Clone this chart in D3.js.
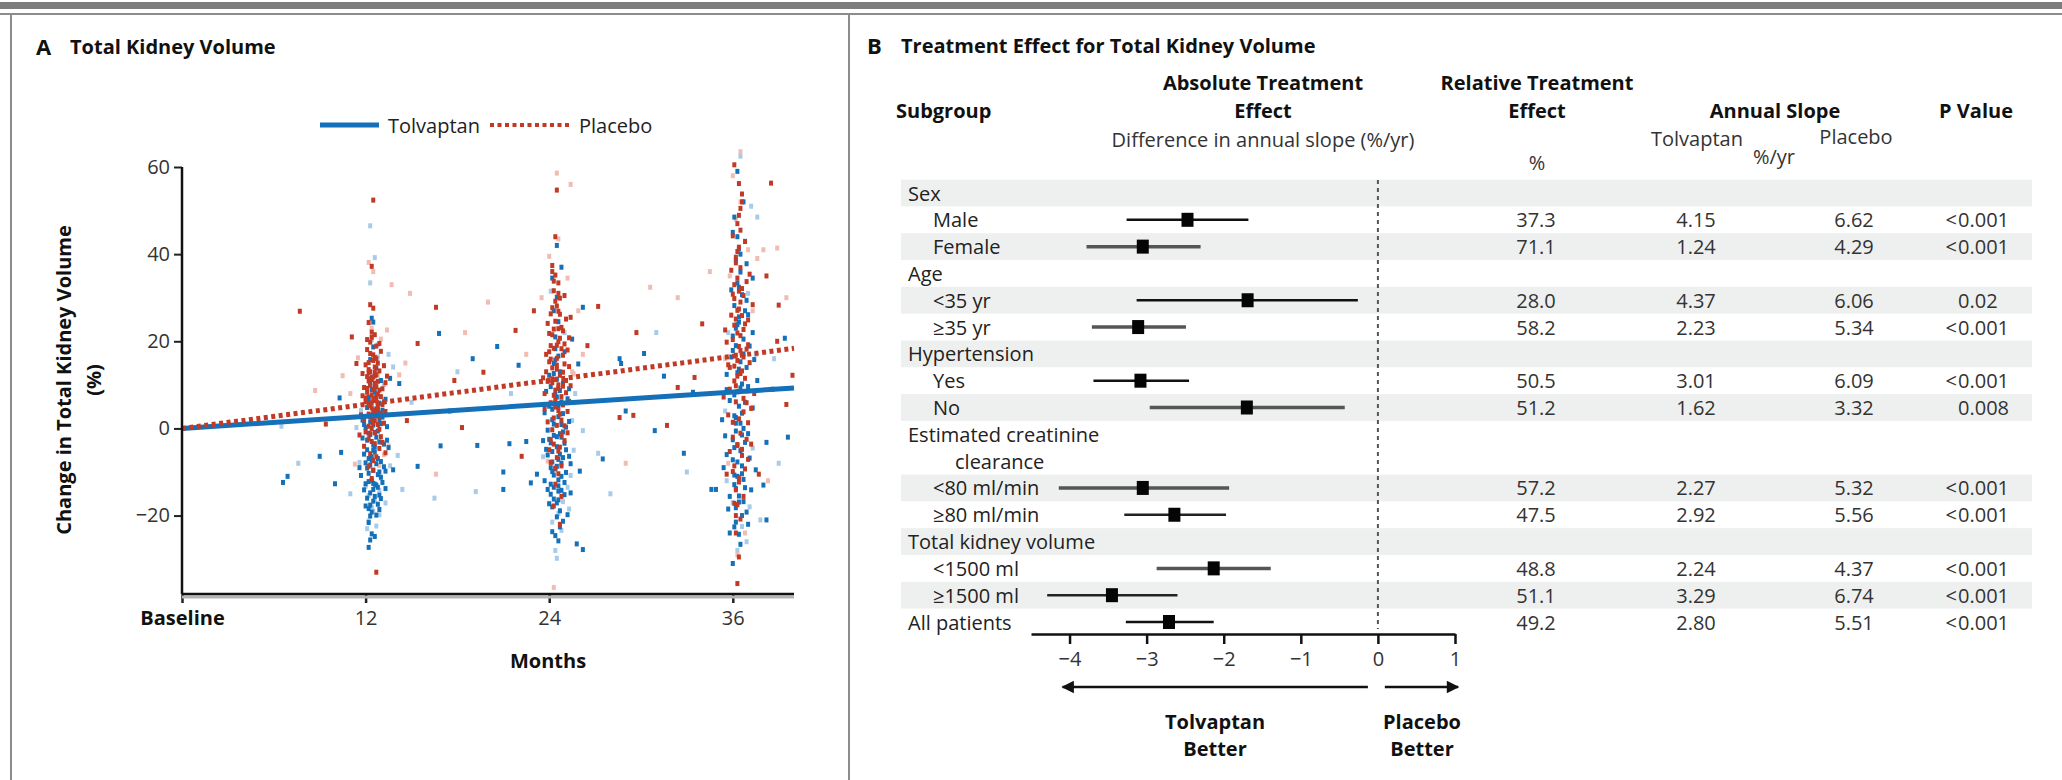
<!DOCTYPE html>
<html>
<head>
<meta charset="utf-8">
<script src="https://cdn.jsdelivr.net/npm/d3@7/dist/d3.min.js"></script>
<style>
  html, body { margin: 0; padding: 0; background: #fff; }
  svg { display: block; font-family: "Open Sans", "Liberation Sans", sans-serif; }
</style>
</head>
<body>
<svg id="chart" width="2062" height="780"></svg>
<script>
// ---------------- DATA: Panel A ----------------
const xTickValues = [0, 12, 24, 36];
const xTickLabels = ["Baseline", "12", "24", "36"];
const yTickValues = [-20, 0, 20, 40, 60];
const seriesNames = ["Tolvaptan", "Placebo"];
// fitted mean lines [month, % change]
const tolvaptanLine = [[0, 0], [40, 9.3]];
const placeboLine = [[0, 0], [40, 18.4]];

const placeboDark = [
[12.2,0.5],[12.4,2.1],[12.6,3.8],[12.3,5.2],[12.5,6.9],[12.1,8.3],[12.7,9.6],[12.4,11.2],[12.2,12.8],[12.6,14.1],
[12.3,-1.2],[12.5,1.3],[12.8,4.4],[12.0,6.1],[12.4,7.7],[12.6,10.4],[12.2,13.5],[12.5,15.6],[12.3,17.2],[12.7,18.9],
[12.1,20.4],[12.4,22.1],[12.6,-3.5],[12.3,-5.8],[12.5,-7.4],[12.9,2.8],[12.2,3.3],[12.4,5.9],[12.7,7.0],[12.1,9.2],
[12.5,11.8],[12.3,13.0],[12.8,15.0],[12.6,16.3],[12.2,-2.4],[12.4,0.0],[12.9,8.8],[13.1,5.5],[12.0,14.6],[12.7,12.3],
[12.5,-9.6],[12.3,19.8],[12.6,21.5],[12.2,24.3],[12.5,27.6],[12.3,28.4],[12.4,37.2],[12.5,52.4],[12.7,-33.0],[13.3,10.5],
[11.8,7.5],[12.9,-4.6],[12.4,-11.5],[13.0,17.7],[11.9,2.0],[12.6,6.4],[12.2,10.9],[12.8,0.9],[12.4,4.7],[12.3,9.9],
[11.7,3.1],[11.9,9.4],[12.0,-0.8],[12.2,5.6],[12.3,11.4],[12.5,16.9],[12.6,1.8],[12.8,7.9],[12.9,13.2],[13.0,-1.9],
[13.1,9.1],[13.2,14.4],[13.3,3.9],[11.8,12.6],[12.1,18.1],[12.4,-3.0],[12.7,-6.5],[12.9,19.5],[13.1,-3.2],[12.2,15.1],
[12.5,4.2],[12.8,10.8],[13.0,7.3],[11.9,-4.1],[12.3,2.7],[12.6,12.9],[12.9,-0.2],[13.2,1.2],[12.1,11.9],[12.4,20.9],
[12.7,16.0],[13.0,3.5],[13.3,-5.6],[12.0,7.0],[12.6,-1.0],[12.2,-8.7],[12.8,5.0],[12.5,9.0],[13.4,12.0],[11.6,-1.5],
[7.7,26.9],[9.4,1.0],[11.1,21.0],[11.4,14.9],
[16.6,27.8],[19.7,12.9],[18.3,0.2],[22.2,-6.4],[14.7,1.8],[15.4,19.5],[21.8,22.5],[23.0,27.0],[17.8,11.0],
[24.3,2.4],[24.6,4.1],[24.1,5.9],[24.8,7.3],[24.4,8.8],[24.2,10.5],[24.7,12.2],[24.5,13.6],[24.0,15.3],[24.9,16.8],
[24.3,18.4],[24.6,19.9],[24.2,21.5],[24.8,23.2],[24.4,24.6],[24.1,26.3],[24.5,28.1],[24.7,29.9],[24.3,31.6],[24.6,33.4],
[24.4,35.2],[24.2,37.4],[24.5,0.7],[24.8,-1.5],[24.3,-3.6],[24.6,-5.2],[24.1,-7.8],[24.7,3.3],[24.4,6.6],[24.9,9.7],
[24.2,11.4],[24.5,14.5],[24.0,17.6],[24.7,20.7],[24.3,22.8],[25.1,11.0],[25.3,6.2],[23.8,13.0],[23.9,1.5],[24.6,-10.4],
[24.4,-12.8],[24.8,-15.6],[24.5,54.7],[24.4,44.0],[25.4,25.5],[25.0,-2.8],[24.2,-0.3],[24.6,26.9],[25.2,18.0],[23.7,8.0],
[24.3,-17.8],[24.7,-22.0],[24.1,19.0],[24.6,10.0],[24.4,4.9],[25.0,30.5],
[23.7,4.6],[23.9,10.8],[24.0,21.8],[24.2,27.7],[24.3,7.6],[24.5,16.1],[24.6,31.0],[24.8,1.9],[24.9,12.9],[25.0,19.4],
[25.1,25.1],[25.2,3.9],[25.3,14.2],[23.8,17.0],[24.1,-2.6],[24.4,29.2],[24.7,-4.3],[24.9,22.4],[25.1,8.2],[24.2,13.9],
[24.5,-6.7],[24.8,18.3],[25.0,0.6],[23.9,24.1],[24.3,33.8],[24.6,9.2],[24.9,5.4],[25.2,-1.0],[24.1,15.9],[24.4,-9.1],
[24.7,26.2],[25.0,14.8],[25.4,9.8],[24.0,-4.9],[24.6,22.9],[24.2,36.0],[24.8,-8.6],[24.5,19.1],[25.3,20.8],[23.6,11.6],
[27.2,28.0],[29.7,22.0],[29.5,3.0],[31.7,0.7],[32.4,9.4],[33.5,11.7],[28.6,2.5],[26.5,19.0],[34.0,24.0],
[36.2,-14.1],[36.4,-11.3],[36.1,-8.6],[36.6,-6.2],[36.3,-3.7],[36.5,-1.1],[36.0,1.4],[36.7,3.8],[36.2,6.1],[36.4,8.5],
[36.1,10.9],[36.6,13.2],[36.3,15.6],[36.5,17.9],[36.0,20.4],[36.7,22.7],[36.2,25.1],[36.4,27.4],[36.1,29.8],[36.6,32.1],
[36.3,34.5],[36.5,36.9],[36.2,39.3],[36.4,41.6],[36.0,44.2],[36.3,47.0],[36.5,50.5],[36.6,53.8],[36.4,56.2],[36.1,60.5],
[36.3,-17.5],[36.5,-20.8],[36.2,-24.0],[36.4,-29.5],[36.3,-35.6],[36.8,11.5],[37.0,19.2],[35.9,26.0],[35.8,9.0],[36.9,-2.5],
[37.2,4.6],[36.2,16.8],[36.5,21.3],[36.1,33.0],[36.7,30.5],[36.3,12.0],[36.4,2.2],[36.6,-4.8],[35.7,14.6],[37.4,8.0],
[36.2,38.0],[36.5,45.5],[36.8,24.0],[36.0,-9.9],[36.4,18.8],
[35.4,7.2],[35.6,19.8],[35.8,-5.3],[36.0,30.8],[36.1,14.3],[36.3,40.6],[36.4,-12.3],[36.6,25.9],[36.7,6.9],[36.9,33.7],
[37.0,-7.1],[37.1,15.1],[37.3,28.4],[35.5,22.6],[35.9,36.3],[36.2,-20.0],[36.5,12.6],[36.8,42.9],[37.0,1.3],[36.1,23.7],
[36.4,48.9],[36.7,-15.6],[36.9,18.2],[35.7,3.1],[36.2,9.8],[36.5,29.0],[36.8,-9.3],[37.1,35.4],[36.0,-2.0],[36.3,21.9],
[36.6,52.0],[36.9,5.9],[37.2,-3.6],[35.8,14.0],[36.4,31.5],[36.1,-17.2],[36.7,16.4],[36.3,27.1],[37.0,24.9],[35.6,-10.5],
[39.9,12.2],[39.0,28.3],[38.5,56.3],[37.7,-10.5],[38.9,20.0],[39.5,5.5],[38.2,35.0]
];
const placeboLight = [
[12.2,38.1],[12.5,36.0],[12.8,12.2],[13.5,-4.0],[14.2,12.3],[13.0,20.5],[11.5,16.2],[10.5,12.1],[13.7,33.0],[11.3,-8.2],
[13.2,-6.0],[14.6,15.0],[11.0,8.0],[12.4,23.0],[13.4,22.6],[12.9,-8.5],[8.7,8.7],
[16.6,-10.5],[20.0,29.0],[18.5,22.0],[14.9,31.0],[22.5,17.0],
[24.5,58.6],[25.4,56.0],[24.6,43.5],[23.5,30.0],[25.2,34.5],[25.9,27.0],[26.2,17.0],[23.9,-7.5],[24.3,-36.5],[25.6,12.5],[24.0,39.5],
[30.6,32.4],[32.4,30.0],[25.5,13.0],[29.0,-8.0],[34.5,36.0],
[36.0,58.0],[36.5,52.0],[36.2,48.0],[35.8,35.0],[37.0,41.0],[35.5,16.0],[37.6,39.0],[38.0,41.0],[36.8,-24.0],[36.3,-29.0],
[35.7,-8.0],[37.3,27.0],[36.5,63.5],
[38.9,41.4],[39.5,30.0],[38.3,-12.0]
];
const tolvaptanDark = [
[12.3,-14.8],[12.5,-12.6],[12.2,-10.3],[12.7,-8.1],[12.4,-6.5],[12.6,-4.2],[12.1,-2.7],[12.8,-0.6],[12.3,1.5],[12.5,3.4],
[12.9,5.8],[12.2,7.2],[12.6,9.5],[12.4,11.7],[12.7,13.9],[12.3,15.8],[12.5,-16.7],[12.2,-18.4],[12.8,-13.5],[13.0,-11.2],
[12.1,-9.1],[12.4,-7.3],[12.6,-5.4],[12.9,-3.1],[12.3,-1.4],[12.5,0.8],[13.1,2.6],[12.7,4.5],[12.2,6.6],[12.4,-11.9],
[12.6,-15.6],[13.3,-9.8],[13.5,-4.4],[13.4,0.4],[13.2,6.1],[11.9,-5.9],[11.8,1.9],[12.0,-12.7],[12.8,-17.4],[12.3,-20.1],
[12.5,18.7],[12.4,25.3],[12.5,24.4],[12.4,-24.2],[12.3,-25.6],[12.2,-27.3],[12.6,-24.8],[12.7,-2.0],[12.2,-6.9],[13.0,-7.6],
[12.4,3.0],[12.6,8.4],[12.1,-16.0],[12.9,-10.0],[13.6,11.5],[13.8,-9.5],[12.3,10.2],[12.5,-3.8],[12.7,-13.0],[12.0,0.2],
[11.7,-10.8],[11.9,-14.1],[12.0,-7.9],[12.2,-1.1],[12.3,-17.6],[12.5,-9.6],[12.6,-0.9],[12.8,-6.9],[12.9,-15.3],[13.0,1.1],
[13.1,-12.4],[13.2,-3.6],[13.3,-13.8],[11.8,-2.2],[12.1,4.8],[12.4,-19.2],[12.7,7.4],[12.9,-18.6],[13.1,4.2],[12.2,-12.2],
[12.5,-5.0],[12.8,-10.6],[13.0,-16.1],[11.9,0.9],[12.3,-8.4],[12.6,-12.8],[12.9,2.0],[13.2,-8.8],[12.1,-4.9],[12.4,8.9],
[12.7,-19.9],[13.0,11.0],[13.4,-2.7],[12.0,-17.8],[12.6,12.1],[12.2,-21.6],[12.8,3.8],[12.5,-14.0],[13.3,6.7],[11.6,-9.0],
[6.6,-12.4],[6.9,-11.0],[9.0,-6.4],[10.0,-12.7],[10.4,-5.5],[10.3,7.0],
[16.8,21.8],[20.6,18.8],[19.0,16.0],[14.2,10.3],[19.3,-3.9],[21.0,-10.0],[21.0,-14.0],[21.4,-3.5],[16.9,-4.0],[15.4,-8.7],
[22.5,-3.0],[22.8,-12.5],[17.5,4.0],[22.0,14.5],
[24.3,-16.2],[24.6,-14.4],[24.1,-12.8],[24.8,-11.0],[24.4,-9.3],[24.2,-7.7],[24.7,-5.9],[24.5,-4.2],[24.0,-2.5],[24.9,-0.8],
[24.3,1.0],[24.6,2.7],[24.2,4.4],[24.8,6.1],[24.4,7.8],[24.1,9.6],[24.5,11.3],[24.7,13.0],[24.3,14.9],[24.6,16.6],
[24.4,18.3],[24.2,-18.0],[24.5,-20.3],[24.7,-22.6],[24.3,-13.5],[24.9,-6.7],[24.1,-3.3],[25.1,0.3],[24.6,5.2],[25.3,9.1],
[23.8,-4.8],[23.7,3.6],[24.4,21.0],[24.6,24.5],[24.3,27.0],[24.5,30.1],[24.2,34.5],[24.8,37.0],[25.5,20.5],[25.9,14.8],
[23.2,-10.5],[24.4,-24.6],[24.6,-25.8],[25.8,-26.5],[24.8,-2.0],[24.2,-9.9],[25.0,-15.2],[24.5,-17.1],[24.7,8.7],[24.0,12.2],
[25.4,-8.1],[23.9,-14.0],[24.5,42.0],[26.0,-9.8],[24.3,-1.6],[24.6,-11.8],
[23.7,-12.0],[23.9,-6.1],[24.0,-17.3],[24.2,2.0],[24.3,-10.7],[24.5,-1.9],[24.6,-16.4],[24.8,-8.0],[24.9,3.4],[25.0,-12.4],
[25.1,-4.9],[25.2,-19.8],[25.3,1.6],[23.8,8.5],[24.1,-15.1],[24.4,5.8],[24.7,-18.9],[24.9,10.4],[25.1,-10.1],[24.2,-5.3],
[24.5,7.2],[24.8,-14.2],[25.0,-3.4],[23.9,-0.4],[24.3,12.6],[24.6,-7.1],[24.9,-21.3],[25.2,6.8],[24.1,-9.0],[24.4,15.7],
[24.7,-1.2],[25.0,17.6],[25.4,-14.8],[24.0,5.1],[24.6,-13.2],[24.2,-23.7],[24.8,0.9],[24.5,-8.7],[25.3,-6.4],[23.6,-2.8],
[30.2,17.2],[26.2,27.8],[28.6,16.0],[28.7,14.9],[30.9,-0.5],[33.4,8.3],[32.8,-5.7],[34.6,-14.0],[26.2,-27.8],[29.0,4.0],
[31.5,12.0],[27.5,-7.0],
[36.2,-18.2],[36.4,-15.5],[36.1,-12.9],[36.6,-10.4],[36.3,-7.7],[36.5,-5.1],[36.0,-2.6],[36.7,0.0],[36.2,2.5],[36.4,5.1],
[36.1,7.7],[36.6,10.2],[36.3,12.8],[36.5,15.3],[36.0,17.9],[36.7,20.5],[36.2,23.0],[36.4,25.6],[36.1,28.2],[36.6,30.7],
[36.3,33.4],[36.5,35.9],[36.2,38.6],[36.4,41.2],[36.3,44.0],[36.1,48.5],[36.3,59.0],[36.2,-21.5],[36.4,-24.3],[36.0,-31.0],
[36.8,-13.6],[37.0,-1.2],[35.8,6.4],[36.9,14.0],[37.3,22.0],[35.6,-6.0],[37.5,-9.5],[36.6,3.5],[36.3,-3.9],[36.5,9.3],
[36.2,19.0],[36.8,27.0],[35.9,31.8],[36.1,-10.7],[36.7,-16.8],[37.4,15.8],[34.9,-14.0],[35.3,2.0],[37.6,11.0],[36.5,1.2],
[36.2,-0.6],[36.4,24.4],[36.0,45.0],[36.6,-20.0],
[35.4,-9.0],[35.6,12.4],[35.8,-15.6],[36.0,21.2],[36.1,-4.4],[36.3,8.4],[36.4,32.4],[36.6,-8.6],[36.7,17.1],[36.9,-19.2],
[37.0,26.1],[37.1,-6.8],[37.3,4.7],[35.5,-1.7],[35.9,16.4],[36.2,-13.8],[36.5,40.0],[36.8,-3.2],[37.0,9.6],[36.1,-22.6],
[36.4,13.6],[36.7,-11.7],[36.9,29.4],[35.7,-18.5],[36.2,1.2],[36.5,-26.6],[36.8,6.0],[37.1,18.9],[36.0,-7.2],[36.3,23.8],
[36.6,-1.5],[36.9,37.8],[37.2,-14.1],[35.8,-24.0],[36.4,-16.9],[36.1,2.9],[36.7,52.0],[36.3,-11.0],[37.0,-22.0],[35.6,8.9],
[39.4,20.7],[38.2,-3.2],[38.2,-21.0],[37.3,34.5],[38.6,9.0],[39.6,-2.0],[38.0,-13.0]
];
const tolvaptanLight = [
[12.2,-21.2],[12.5,-19.0],[12.9,-14.2],[13.3,-17.1],[12.0,-13.3],[12.7,-22.4],[13.6,-8.6],[14.1,-6.2],[12.4,20.3],[12.8,16.4],
[13.2,10.1],[13.5,17.0],[12.3,46.5],[12.6,39.2],[12.3,33.4],[11.6,-7.8],[11.4,0.2],[13.8,14.1],[12.1,-23.0],[13.0,-11.4],
[12.6,-16.4],[12.8,19.2],[14.4,-14.0],[12.4,-18.0],[11.7,4.1],[12.9,-19.8],[12.2,-15.4],
[6.5,0.5],[7.6,-8.0],[11.0,-15.0],
[19.2,-14.5],[15.0,6.0],[18.0,13.0],[21.5,8.0],[16.5,-16.0],
[24.6,-19.5],[24.9,-16.8],[25.2,-13.5],[24.2,-21.5],[25.4,-10.8],[24.5,-29.8],[24.4,-28.0],[25.6,-5.0],[25.0,22.0],[25.7,8.0],
[24.1,31.5],[25.3,-18.5],[23.6,-6.5],[24.8,-23.4],[25.5,1.8],[24.0,-17.2],[26.2,-0.5],
[27.2,-5.7],[31.0,22.0],[33.0,-10.0],[28.0,-15.0],
[36.6,-22.5],[36.9,-26.0],[36.3,-28.0],[37.1,-18.0],[35.6,-12.0],[37.3,-4.5],[35.5,4.0],[37.5,17.0],[36.8,43.0],[37.2,51.0],
[35.7,22.0],[36.5,62.5],[37.8,-21.0],[36.9,8.5],[36.0,-17.0],[37.0,31.0],
[37.6,48.5],[38.7,16.0],[39.0,-8.0]
];

// ---------------- DATA: Panel B ----------------
const subgroupLabels = ["Sex","Male","Female","Age","<35 yr","≥35 yr","Hypertension","Yes","No",
  "Estimated creatinine","clearance","<80 ml/min","≥80 ml/min","Total kidney volume","<1500 ml","≥1500 ml","All patients"];
const subgroupLevel = [0,1,1,0,1,1,0,1,1,0,2,1,1,0,1,1,0];
const effectRows = ["Male","Female","<35 yr","≥35 yr","Yes","No","<80 ml/min","≥80 ml/min","<1500 ml","≥1500 ml","All patients"];
const absEffect = [-2.47,-3.05,-1.69,-3.11,-3.08,-1.70,-3.05,-2.64,-2.13,-3.45,-2.71];
const ciLow  = [-3.26,-3.78,-3.13,-3.71,-3.69,-2.96,-4.14,-3.29,-2.87,-4.29,-3.27];
const ciHigh = [-1.68,-2.30,-0.26,-2.49,-2.45,-0.43,-1.93,-1.97,-1.39,-2.60,-2.13];
const relEffect = ["37.3","71.1","28.0","58.2","50.5","51.2","57.2","47.5","48.8","51.1","49.2"];
const slopeTolvaptan = ["4.15","1.24","4.37","2.23","3.01","1.62","2.27","2.92","2.24","3.29","2.80"];
const slopePlacebo = ["6.62","4.29","6.06","5.34","6.09","3.32","5.32","5.56","4.37","6.74","5.51"];
const pValues = ["<0.001","<0.001","0.02","<0.001","<0.001","0.008","<0.001","<0.001","<0.001","<0.001","<0.001"];
const forestTicks = [-4,-3,-2,-1,0,1];

// ---------------- STYLE ----------------
const C = {
  blue: "#1470b8", blueLight: "#a8cbe9", red: "#c23a26", redLight: "#f1bcb2",
  text: "#222", band: "#eef0ef", frame: "#8c8c8c"
};
const ciShade = ["#111","#555","#111","#555","#111","#555","#555","#222","#555","#222","#111"];

const svg = d3.select("#chart");

// ---------- outer frame ----------
svg.append("rect").attr("x",0).attr("y",2).attr("width",2062).attr("height",7).attr("fill","#7d7d7d");
svg.append("line").attr("x1",0).attr("x2",2062).attr("y1",14).attr("y2",14).attr("stroke",C.frame).attr("stroke-width",2);
svg.append("line").attr("x1",11).attr("x2",11).attr("y1",14).attr("y2",780).attr("stroke",C.frame).attr("stroke-width",2);
svg.append("line").attr("x1",849).attr("x2",849).attr("y1",14).attr("y2",780).attr("stroke",C.frame).attr("stroke-width",2);

// ================= PANEL A =================
const gA = svg.append("g");
gA.append("text").attr("x",36).attr("y",46).attr("dominant-baseline","central")
  .attr("font-size",22).attr("font-weight",700).attr("fill","#111").text("A");
gA.append("text").attr("x",70).attr("y",46).attr("dominant-baseline","central")
  .attr("font-size",20).attr("font-weight",700).attr("fill","#111").text("Total Kidney Volume");

const x = d3.scaleLinear().domain([0, 40]).range([182, 794]);
const y = d3.scaleLinear().domain([-38, 60]).range([594, 167]);

// points
function drawPts(data, color) {
  gA.append("g").selectAll("rect").data(data).join("rect")
    .attr("x", d => x(d[0]) - 2).attr("y", d => y(d[1]) - 2.5)
    .attr("width", 4).attr("height", 5).attr("fill", color);
}
drawPts(tolvaptanLight, C.blueLight);
drawPts(placeboLight, C.redLight);
drawPts(tolvaptanDark, C.blue);
drawPts(placeboDark, C.red);

// lines
const line = d3.line().x(d => x(d[0])).y(d => y(d[1]));
gA.append("path").attr("d", line(tolvaptanLine)).attr("fill","none")
  .attr("stroke", C.blue).attr("stroke-width", 5);
gA.append("path").attr("d", line(placeboLine)).attr("fill","none")
  .attr("stroke", C.red).attr("stroke-width", 5).attr("stroke-dasharray","4,3.5");

// y axis
const yAxis = gA.append("g").attr("transform", `translate(${x(0)},0)`)
  .call(d3.axisLeft(y).tickValues(yTickValues).tickSize(8).tickSizeOuter(0).tickPadding(4));
yAxis.select(".domain").remove();
yAxis.append("line").attr("x1",0).attr("x2",0).attr("y1",y(60)).attr("y2",y(-38)).attr("stroke","#111").attr("stroke-width",2.5);
yAxis.selectAll(".tick line").attr("stroke","#222").attr("stroke-width",2);
yAxis.selectAll(".tick text").attr("font-size",20).attr("fill","#333")
  .attr("font-family","'Open Sans', sans-serif");

// x axis
const xAxis = gA.append("g").attr("transform", `translate(0,${y(-38)})`)
  .call(d3.axisBottom(x).tickValues(xTickValues).tickSize(9).tickSizeOuter(0).tickPadding(8)
        .tickFormat((d, i) => xTickLabels[i]));
xAxis.select(".domain").remove();
xAxis.append("line").attr("x1",x(0)).attr("x2",x(40)).attr("y1",3).attr("y2",3).attr("stroke","#b5b5b5").attr("stroke-width",3);
xAxis.append("line").attr("x1",x(0)).attr("x2",x(40)).attr("y1",0).attr("y2",0).attr("stroke","#111").attr("stroke-width",2.5);
xAxis.selectAll(".tick line").attr("stroke","#222").attr("stroke-width",2.5);
xAxis.selectAll(".tick text").attr("font-size",20)
  .attr("font-family","'Open Sans', sans-serif")
  .attr("font-weight",(d,i) => i === 0 ? 700 : 400)
  .attr("fill",(d,i) => i === 0 ? "#111" : "#333");

gA.append("text").attr("x",548).attr("y",660).attr("text-anchor","middle").attr("dominant-baseline","central")
  .attr("font-size",20).attr("font-weight",700).attr("fill","#111").text("Months");
gA.append("text").attr("transform","translate(63,380) rotate(-90)").attr("text-anchor","middle")
  .attr("dominant-baseline","central").attr("font-size",20).attr("font-weight",700).attr("fill","#111")
  .text("Change in Total Kidney Volume");
gA.append("text").attr("transform","translate(93,380) rotate(-90)").attr("text-anchor","middle")
  .attr("dominant-baseline","central").attr("font-size",20).attr("font-weight",700).attr("fill","#111")
  .text("(%)");

// legend
const lg = gA.append("g");
lg.append("line").attr("x1",320).attr("x2",379).attr("y1",125).attr("y2",125).attr("stroke",C.blue).attr("stroke-width",5);
lg.append("text").attr("x",388).attr("y",125).attr("dominant-baseline","central").attr("font-size",20).attr("fill","#222").text(seriesNames[0]);
lg.append("line").attr("x1",490).attr("x2",569).attr("y1",125).attr("y2",125).attr("stroke",C.red).attr("stroke-width",4).attr("stroke-dasharray","4,3.5");
lg.append("text").attr("x",579).attr("y",125).attr("dominant-baseline","central").attr("font-size",20).attr("fill","#222").text(seriesNames[1]);

// ================= PANEL B =================
const gB = svg.append("g");
gB.append("text").attr("x",867).attr("y",45).attr("dominant-baseline","central")
  .attr("font-size",22).attr("font-weight",700).attr("fill","#111").text("B");
gB.append("text").attr("x",901).attr("y",45).attr("dominant-baseline","central")
  .attr("font-size",20).attr("font-weight",700).attr("fill","#111").text("Treatment Effect for Total Kidney Volume");

const rowY = d3.scaleLinear().domain([0, 16]).range([193, 622]);
const rowH = rowY(1) - rowY(0);
const xf = d3.scaleLinear().domain([-4.5, 1]).range([1031, 1455]);
const colRel = 1536, colTol = 1696, colPla = 1854, colP = 1958;

// header
function hdr(t, xx, yy, bold, anchor) {
  gB.append("text").attr("x",xx).attr("y",yy).attr("text-anchor",anchor || "middle")
    .attr("dominant-baseline","central").attr("font-size",20)
    .attr("font-weight",bold ? 700 : 400).attr("fill", bold ? "#111" : "#333").text(t);
}
hdr("Subgroup", 896, 110, true, "start");
hdr("Absolute Treatment", 1263, 82, true);
hdr("Effect", 1263, 110, true);
hdr("Difference in annual slope (%/yr)", 1263, 139, false);
hdr("Relative Treatment", 1537, 82, true);
hdr("Effect", 1537, 110, true);
hdr("%", 1537, 162, false);
hdr("Annual Slope", 1775, 110, true);
hdr("Tolvaptan", 1697, 138, false);
hdr("Placebo", 1856, 136, false);
hdr("%/yr", 1774, 156, false);
hdr("P Value", 1976, 110, true);

// bands
const shaded = [0,2,4,6,8,11,13,15];
gB.append("g").selectAll("rect").data(shaded).join("rect")
  .attr("x",901).attr("width",2032-901)
  .attr("y", i => rowY(i) - rowH/2).attr("height", rowH).attr("fill", C.band);

// labels
const indent = [908, 933, 955];
gB.append("g").selectAll("text").data(subgroupLabels).join("text")
  .attr("x", (d,i) => indent[subgroupLevel[i]]).attr("y", (d,i) => rowY(i))
  .attr("dominant-baseline","central").attr("font-size",20).attr("fill",C.text).text(d => d);

// zero line
gB.append("line").attr("x1",xf(0)).attr("x2",xf(0)).attr("y1",180).attr("y2",629)
  .attr("stroke","#555").attr("stroke-width",2).attr("stroke-dasharray","4,4");

// CI and points
const rowIndex = effectRows.map(r => subgroupLabels.indexOf(r));
const gCI = gB.append("g");
gCI.selectAll("line").data(effectRows).join("line")
  .attr("x1",(d,i) => xf(ciLow[i])).attr("x2",(d,i) => xf(ciHigh[i]))
  .attr("y1",(d,i) => rowY(rowIndex[i])).attr("y2",(d,i) => rowY(rowIndex[i]))
  .attr("stroke",(d,i) => ciShade[i]).attr("stroke-width",(d,i) => ciShade[i] === "#555" ? 3.5 : 2.5);
gCI.selectAll("rect").data(effectRows).join("rect")
  .attr("x",(d,i) => xf(absEffect[i]) - 6).attr("y",(d,i) => rowY(rowIndex[i]) - 7)
  .attr("width",12).attr("height",14).attr("fill","#050505");

// numbers
function col(arr, xx) {
  gB.append("g").selectAll("text").data(arr).join("text")
    .attr("x", xx).attr("y",(d,i) => rowY(rowIndex[i])).attr("text-anchor","middle")
    .attr("dominant-baseline","central").attr("font-size",20).attr("fill","#333").text(d => d);
}
col(relEffect, colRel);
col(slopeTolvaptan, colTol);
col(slopePlacebo, colPla);
const gp = gB.append("g");
pValues.forEach((p, i) => {
  const lt = p.startsWith("<");
  if (lt) gp.append("text").attr("x", colP - 1).attr("y", rowY(rowIndex[i])).attr("text-anchor","end")
      .attr("dominant-baseline","central").attr("font-size",20).attr("fill","#333").text("<");
  gp.append("text").attr("x", colP).attr("y", rowY(rowIndex[i])).attr("text-anchor","start")
      .attr("dominant-baseline","central").attr("font-size",20).attr("fill","#333").text(lt ? p.slice(1) : p);
});

// forest axis
const fAxis = gB.append("g").attr("transform","translate(0,634)")
  .call(d3.axisBottom(xf).tickValues(forestTicks).tickSize(10).tickSizeOuter(0).tickPadding(8)
        .tickFormat(d3.format("d")));
fAxis.select(".domain").attr("stroke","#111").attr("stroke-width",2.5);
fAxis.selectAll(".tick line").attr("stroke","#111").attr("stroke-width",2.5);
fAxis.selectAll(".tick text").attr("font-size",20).attr("fill","#333").attr("font-family","'Open Sans', sans-serif");

// arrows
const defs = svg.append("defs");
defs.append("marker").attr("id","ah").attr("viewBox","0 0 10 10").attr("refX",9).attr("refY",5)
  .attr("markerWidth",6).attr("markerHeight",5).attr("markerUnits","strokeWidth").attr("orient","auto")
  .append("path").attr("d","M0,0 L10,5 L0,10 z").attr("fill","#111");
gB.append("line").attr("x1",xf(-0.13)).attr("x2",xf(-4.09)).attr("y1",687).attr("y2",687)
  .attr("stroke","#111").attr("stroke-width",2.5).attr("marker-end","url(#ah)");
gB.append("line").attr("x1",xf(0.09)).attr("x2",xf(1.04)).attr("y1",687).attr("y2",687)
  .attr("stroke","#111").attr("stroke-width",2.5).attr("marker-end","url(#ah)");
hdr("Tolvaptan", 1215, 721, true);
hdr("Better", 1215, 748, true);
hdr("Placebo", 1422, 721, true);
hdr("Better", 1422, 748, true);
</script>
</body>
</html>
